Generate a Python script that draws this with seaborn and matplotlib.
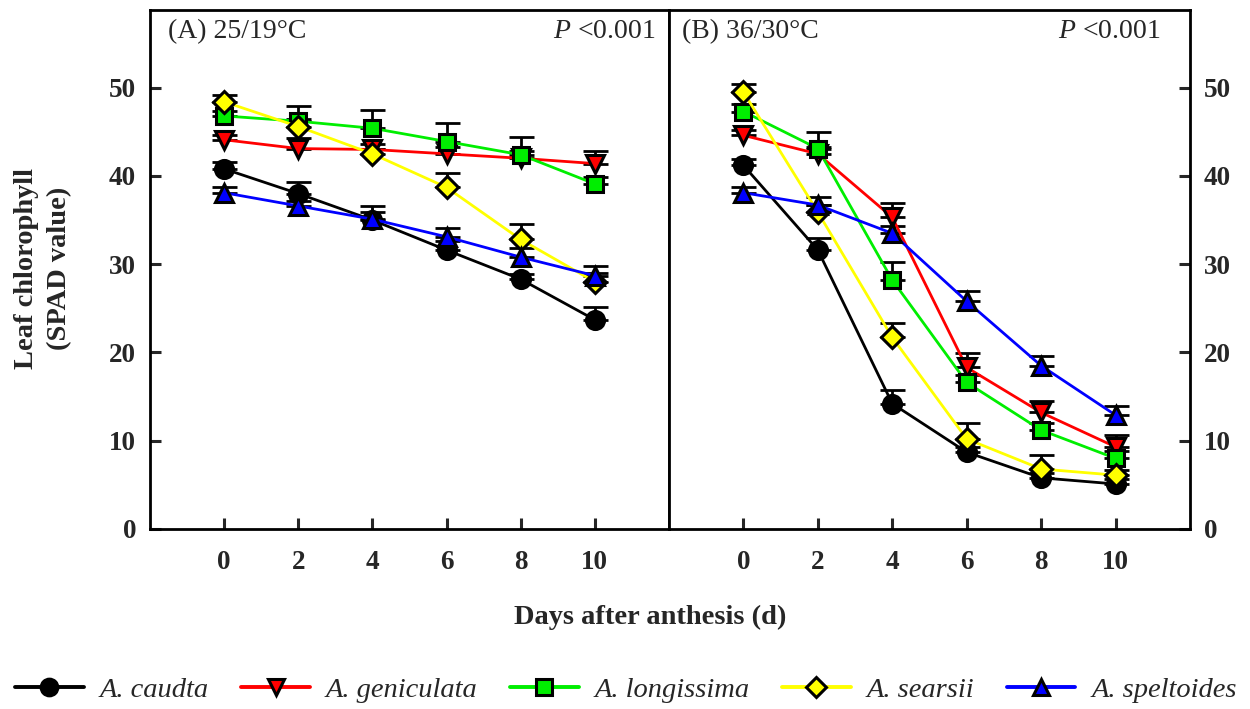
import numpy as np
import pandas as pd
import matplotlib
matplotlib.use("Agg")
import matplotlib.pyplot as plt
from matplotlib.lines import Line2D
import seaborn as sns

days = [0, 2, 4, 6, 8, 10]
species = ["A. caudta", "A. geniculata", "A. longissima", "A. searsii", "A. speltoides"]

# Panel A (25/19 °C)
a_caudta = [40.8, 38.0, 35.0, 31.6, 28.3, 23.7]
a_geniculata = [44.1, 43.1, 43.0, 42.5, 42.0, 41.4]
a_longissima = [46.8, 46.2, 45.4, 43.9, 42.4, 39.1]
a_searsii = [48.4, 45.6, 42.5, 38.7, 32.8, 28.0]
a_speltoides = [38.1, 36.6, 35.1, 33.1, 30.8, 28.7]
a_err_caudta = [0.8, 1.3, 1.6, 1.0, 0.6, 1.5]
a_err_geniculata = [0.5, 1.2, 0.6, 0.8, 0.8, 1.4]
a_err_longissima = [0.6, 1.7, 2.1, 2.1, 2.0, 0.8]
a_err_searsii = [0.8, 0.8, 0.6, 1.6, 1.7, 1.0]
a_err_speltoides = [0.6, 0.6, 0.8, 1.0, 1.0, 1.1]

# Panel B (36/30 °C)
b_caudta = [41.2, 31.6, 14.2, 8.7, 5.8, 5.1]
b_geniculata = [44.6, 42.5, 35.3, 18.3, 13.2, 9.3]
b_longissima = [47.3, 43.1, 28.2, 16.6, 11.2, 8.0]
b_searsii = [49.5, 35.9, 21.7, 10.2, 6.8, 6.1]
b_speltoides = [38.1, 36.7, 33.5, 25.8, 18.5, 12.9]
b_err_caudta = [0.7, 1.4, 1.5, 0.6, 0.6, 0.6]
b_err_geniculata = [0.6, 0.8, 1.6, 1.6, 1.3, 1.3]
b_err_longissima = [0.9, 1.9, 2.0, 0.8, 0.8, 0.8]
b_err_searsii = [0.9, 0.8, 1.6, 1.8, 1.6, 0.6]
b_err_speltoides = [0.6, 0.9, 0.8, 1.2, 1.1, 1.0]

titles = ["(A) 25/19°C", "(B) 36/30°C"]
p_text = "$\\it{P}$ <0.001"
y_ticks = [0, 10, 20, 30, 40, 50]

colors = ["#000000", "#ff0000", "#00ee00", "#ffff00", "#0000ff"]
markers = ["o", "v", "s", "D", "^"]
msizes = [13, 13, 12, 11, 13]

panels = [
    ([a_caudta, a_geniculata, a_longissima, a_searsii, a_speltoides],
     [a_err_caudta, a_err_geniculata, a_err_longissima, a_err_searsii, a_err_speltoides]),
    ([b_caudta, b_geniculata, b_longissima, b_searsii, b_speltoides],
     [b_err_caudta, b_err_geniculata, b_err_longissima, b_err_searsii, b_err_speltoides]),
]

sns.set_theme(style="ticks")
plt.rcParams["font.family"] = ["Liberation Serif", "DejaVu Serif"]
plt.rcParams["mathtext.fontset"] = "custom"
plt.rcParams["mathtext.rm"] = "Liberation Serif"
plt.rcParams["mathtext.it"] = "Liberation Serif:italic"

W, H = 1250, 709
fig = plt.figure(figsize=(12.5, 7.09), dpi=100)
axA = fig.add_axes([150 / W, 1 - 529 / H, 519 / W, 519 / H])
axB = fig.add_axes([669 / W, 1 - 529 / H, 521 / W, 519 / H])
axes = [axA, axB]
title_x = [0.035, 0.025]
p_x = [0.973, 0.943]

for k, (ax, (vals, errs)) in enumerate(zip(axes, panels)):
    rows = []
    for sp, v in zip(species, vals):
        for d, y in zip(days, v):
            rows.append({"day": d, "value": y, "species": sp})
    df = pd.DataFrame(rows)
    for i, sp in enumerate(species):
        ax.errorbar(days, vals[i], yerr=[np.zeros(len(days)), errs[i]], fmt="none",
                    ecolor="black", elinewidth=2.0, capsize=9, capthick=2.0, zorder=2)
        sub = df[df["species"] == sp]
        sns.lineplot(data=sub, x="day", y="value", ax=ax, color=colors[i], lw=2.0,
                     marker=markers[i], markersize=msizes[i], markerfacecolor=colors[i],
                     markeredgecolor="black", markeredgewidth=2.2, legend=False, zorder=3 + i)
    ax.set_xlim(-2, 12)
    ax.set_ylim(0, 58.8)
    ax.set_xticks(days)
    ax.set_yticks(y_ticks)
    ax.set_xlabel("")
    ax.set_ylabel("")
    for s in ax.spines.values():
        s.set_linewidth(2.0)
        s.set_color("black")
    ax.tick_params(direction="in", length=8, width=2.2, labelsize=19.5)
    ax.tick_params(axis="x", pad=15)
    ax.tick_params(axis="y", pad=10)
    ax.text(title_x[k], 0.982, titles[k], transform=ax.transAxes, ha="left", va="top", fontsize=20)
    ax.text(p_x[k], 0.982, p_text, transform=ax.transAxes, ha="right", va="top", fontsize=20)

axB.yaxis.tick_right()
axB.tick_params(axis="y", left=False, right=True, labelleft=False, labelright=True)
for ax in axes:
    for lab in ax.get_xticklabels() + ax.get_yticklabels():
        lab.set_fontweight("bold")

fig.text(650 / W, 1 - 617 / H, "Days after anthesis (d)", ha="center", va="center",
         fontsize=20.5, fontweight="bold")
fig.text(43 / W, 1 - 268 / H, "Leaf chlorophyll\n(SPAD value)", ha="center", va="center",
         rotation=90, fontsize=20.5, fontweight="bold", linespacing=1.4)

handles = [Line2D([0], [0], color=colors[i], lw=2.8, marker=markers[i], markersize=msizes[i] - 1,
                  markerfacecolor=colors[i], markeredgecolor="black", markeredgewidth=2.2)
           for i in range(5)]
fig.legend(handles, species, loc="center", bbox_to_anchor=(626 / W, 1 - 690 / H), ncol=5,
           frameon=False, prop={"style": "italic", "size": 20.5}, handlelength=2.4,
           columnspacing=1.15, handletextpad=0.56, borderaxespad=0, borderpad=0)

fig.savefig("out.png", dpi=100)
